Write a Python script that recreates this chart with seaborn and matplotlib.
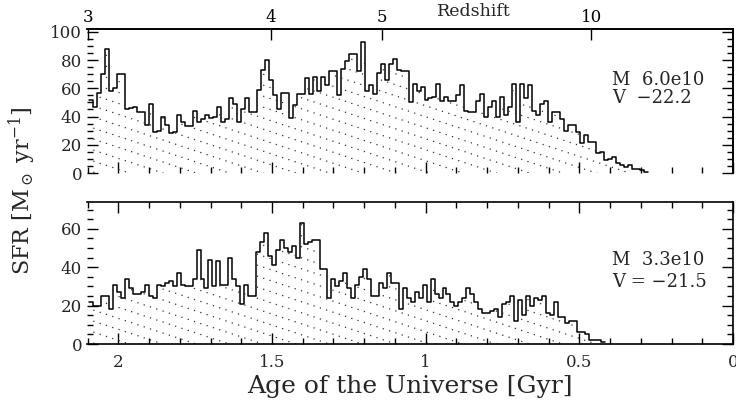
import numpy as np
import pandas as pd
import matplotlib
matplotlib.use('Agg')
import matplotlib.pyplot as plt
import seaborn as sns
from matplotlib.collections import LineCollection
from matplotlib.ticker import FixedLocator, MultipleLocator

# star formation rate per age bin [Msun/yr], oldest bin first
sfr_top = [52, 47, 57, 70, 88, 58, 60, 70, 70, 45, 46, 47, 43, 43, 34, 49, 29, 30, 40, 34,
           28, 29, 41, 36, 33, 33, 44, 36, 38, 41, 39, 40, 47, 36, 38, 53, 49, 36, 45, 53,
           43, 43, 59, 73, 80, 66, 55, 45, 57, 57, 39, 48, 56, 56, 67, 56, 68, 58, 68, 62,
           72, 72, 55, 74, 79, 84, 84, 72, 93, 58, 62, 56, 71, 77, 66, 77, 81, 73, 72, 72,
           50, 63, 58, 61, 52, 53, 54, 63, 51, 54, 51, 51, 55, 62, 44, 43, 43, 51, 56, 40,
           47, 51, 40, 54, 41, 47, 63, 36, 63, 53, 62, 44, 41, 49, 51, 36, 43, 43, 38, 30,
           34, 34, 29, 21, 27, 22, 22, 14, 15, 9, 10, 11, 7, 6, 4, 6, 3, 3, 2, 1]
sfr_bot = [22, 20, 20, 25, 25, 18, 31, 27, 24, 34, 29, 26, 26, 27, 31, 25, 24, 31, 30, 32,
           33, 30, 37, 31, 30, 30, 34, 49, 34, 29, 44, 30, 43, 31, 31, 45, 34, 30, 21, 31,
           25, 25, 48, 53, 58, 46, 41, 49, 54, 50, 48, 51, 45, 63, 52, 53, 54, 54, 39, 39,
           24, 34, 30, 33, 37, 29, 24, 31, 35, 39, 34, 25, 25, 32, 29, 37, 32, 32, 18, 29,
           24, 22, 27, 24, 31, 22, 34, 26, 24, 29, 26, 22, 20, 22, 24, 29, 26, 22, 18, 16,
           16, 17, 18, 14, 21, 22, 25, 12, 23, 15, 25, 20, 24, 23, 25, 16, 15, 22, 14, 14,
           11, 12, 12, 6, 6, 5, 2, 2, 2, 1]
age_first = 2.094          # Gyr, start of the oldest bin
age_last_top = 0.277       # Gyr, end of the youngest bin
age_last_bot = 0.416
age_ticks = [2, 1.5, 1, 0.5, 0]
z_ticks = [3, 4, 5, 10]
t0 = 16.8                  # age of the universe at z=0 used for the redshift axis [Gyr]
text_top = ["M  6.0e10", "V  \u221222.2"]
text_bot = ["M  3.3e10", "V = \u221221.5"]

sns.set_style('ticks')
plt.rcParams['font.family'] = ['DejaVu Serif']
plt.rcParams['mathtext.fontset'] = 'dejavuserif'

W, H = 736, 415
fig = plt.figure(figsize=(W / 100, H / 100), dpi=100)
ax1 = fig.add_axes([87 / W, 1 - 173 / H, 646 / W, 144 / H])
ax2 = fig.add_axes([87 / W, 1 - 344 / H, 646 / W, 142 / H])


def draw_panel(ax, vals, age_last, ymax, lines, ytext):
    edges = np.linspace(age_first, age_last, len(vals) + 1)
    df = pd.DataFrame({'age': (edges[:-1] + edges[1:]) / 2, 'sfr': vals})
    bins = list(edges[::-1])
    # invisible filled version, used as the clip shape of the dotted hatching
    sns.histplot(data=df, x='age', weights='sfr', bins=bins, element='step',
                 fill=True, alpha=0, linewidth=0, color='black', ax=ax)
    poly = ax.collections[-1]
    sns.histplot(data=df, x='age', weights='sfr', bins=bins, element='step',
                 fill=False, color='black', linewidth=1.1, ax=ax)

    ax.set_xlim(2.102, 0)
    ax.set_ylim(0, ymax)
    ax.set_ylabel('')
    ax.set_xlabel('')

    # dotted diagonal hatching
    bb = ax.get_window_extent()
    slope = 0.33
    segs = []
    for c in np.arange(3, bb.height + slope * bb.width, 11):
        segs.append([(0, c / bb.height), (1, (c - slope * bb.width) / bb.height)])
    lc = LineCollection(segs, transform=ax.transAxes, colors='#333333', linewidths=0.9,
                        linestyles=[(0, (1, 4.3))])
    ax.add_collection(lc)
    lc.set_clip_path(poly.get_paths()[0], poly.get_transform())

    ax.xaxis.set_major_locator(FixedLocator(age_ticks))
    ax.xaxis.set_minor_locator(MultipleLocator(0.1))
    ax.yaxis.set_major_locator(MultipleLocator(20))
    ax.yaxis.set_minor_locator(MultipleLocator(5))
    ax.tick_params(which='both', direction='in', left=True, right=True, top=True,
                   bottom=True, color='black', labelsize=12, width=1)
    ax.tick_params(which='major', length=8)
    ax.tick_params(which='minor', length=4.5)
    for s in ax.spines.values():
        s.set_color('black')
        s.set_linewidth(1.2)
    ax.spines['left'].set_visible(False)

    ax.text(0.813, ytext[0], lines[0], transform=ax.transAxes, fontsize=13, va='center')
    ax.text(0.813, ytext[1], lines[1], transform=ax.transAxes, fontsize=13, va='center')


draw_panel(ax1, sfr_top, age_last_top, 102, text_top, (0.646, 0.52))
draw_panel(ax2, sfr_bot, age_last_bot, 74, text_bot, (0.59, 0.44))

ax1.spines['bottom'].set_visible(False)
ax1.tick_params(top=False, labelbottom=False, which='both')
ax2.set_xticklabels(['2', '1.5', '1', '0.5', '0'])
ax2.tick_params(axis='x', pad=7)

# redshift axis on top of the upper panel (ticks at the matching ages)
top = ax1.twiny()
top.set_xlim(ax1.get_xlim())
top.set_xticks([t0 * (1 + z) ** -1.5 for z in z_ticks])
top.set_xticklabels([str(z) for z in z_ticks])
top.xaxis.set_minor_locator(FixedLocator([]))
top.tick_params(axis='x', direction='in', length=8, width=1, labelsize=12, pad=2,
                colors='black')
for name, s in top.spines.items():
    s.set_visible(name in ('top', 'right'))
    s.set_color('black')
    s.set_linewidth(1.2)
fig.text(474 / W, 1 - 12 / H, 'Redshift', fontsize=12.5, ha='center', va='center')

ax2.set_xlabel('Age of the Universe [Gyr]', fontsize=18, labelpad=3)
fig.text(22 / W, 1 - 191 / H, r'SFR [M$_\odot$ yr$^{-1}$]', rotation=90, fontsize=16,
         ha='center', va='center')

fig.savefig('out.png', dpi=100, facecolor='white')
